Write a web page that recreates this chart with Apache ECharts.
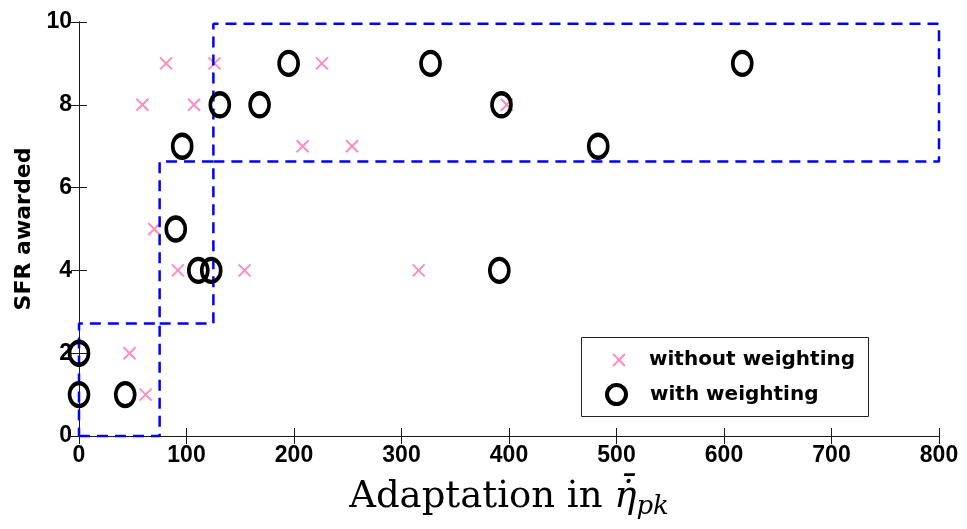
<!DOCTYPE html>
<html>
<head>
<meta charset="utf-8">
<script src="https://cdn.jsdelivr.net/npm/echarts@6/dist/echarts.min.js"></script>
<style>
  html, body { margin: 0; padding: 0; background: #fff; }
  #chart { width: 967px; height: 529px; }
</style>
</head>
<body>
<div id="chart"></div>
<script>
// SFR awarded versus adaptation, with and without weighting
const xTicks = [0, 100, 200, 300, 400, 500, 600, 700, 800];
const yTicks = [0, 2, 4, 6, 8, 10];

// [adaptation, SFR] pairs
const withoutWeighting = [
  [81, 9], [126, 9], [226, 9],
  [59, 8], [107, 8], [398, 8],
  [208, 7], [254, 7],
  [70, 5],
  [92, 4], [154, 4], [316, 4],
  [47, 2],
  [62, 1]
];
const withWeighting = [
  [0, 2], [0, 1], [43, 1],
  [90, 5],
  [111, 4], [123, 4], [391, 4],
  [96, 7], [483, 7],
  [131, 8], [168, 8], [393, 8],
  [195, 9], [327, 9], [617, 9]
];

// classification regions (x0, x1, y0, y1)
const regions = [
  [0, 75, 0, 2.72],
  [75, 125, 2.72, 6.63],
  [125, 800, 6.63, 9.96]
];

const pink = '#ff8cc0';
const crossPath = 'path://M0,0L10,10M10,0L0,10';

const regionSeries = regions.map(function (r, i) {
  return {
    name: 'region' + i,
    type: 'line',
    data: [[r[0], r[2]], [r[1], r[2]], [r[1], r[3]], [r[0], r[3]], [r[0], r[2]]],
    symbol: 'none',
    silent: true,
    z: 3,
    lineStyle: { color: '#0000ff', width: 2.5, type: [11, 7] },
    clip: false
  };
});

const chart = echarts.init(document.getElementById('chart'));
const tickFont = { fontFamily: 'Liberation Sans', fontWeight: 'bold', fontSize: 23, color: '#000' };
const axisLineStyle = { color: '#1a1a1a', width: 1 };

chart.setOption({
  animation: false,
  backgroundColor: '#fff',
  grid: { left: 79, right: 28, top: 22, bottom: 93, containLabel: false },
  xAxis: [
    {
      type: 'value', min: 0, max: 800, interval: 100,
      position: 'bottom',
      axisLine: { show: true, lineStyle: axisLineStyle },
      axisTick: { show: true, inside: true, length: 8, lineStyle: axisLineStyle },
      splitLine: { show: false },
      axisLabel: Object.assign({ margin: 8, formatter: function (v) { return xTicks.indexOf(v) >= 0 ? String(v) : ''; } }, tickFont),
      name: '{a|Adaptation in }{e|\u03B7\u0307\u0304}{s|pk}',
      nameLocation: 'middle',
      nameGap: 38,
      nameTextStyle: {
        color: '#000',
        rich: {
          a: { fontFamily: 'DejaVu Serif', fontSize: 37, color: '#000' },
          e: { fontFamily: 'DejaVu Serif', fontStyle: 'italic', fontSize: 37, color: '#000' },
          s: { fontFamily: 'DejaVu Serif', fontStyle: 'italic', fontSize: 26, color: '#000', padding: [20, 0, 0, 0] }
        }
      }
    },
    {
      type: 'value', min: 0, max: 800, interval: 100,
      position: 'top',
      axisLine: { show: true, lineStyle: axisLineStyle },
      axisTick: { show: true, inside: true, length: 8, lineStyle: axisLineStyle },
      axisLabel: { show: false },
      splitLine: { show: false }
    }
  ],
  yAxis: [
    {
      type: 'value', min: 0, max: 10, interval: 2,
      position: 'left',
      axisLine: { show: true, lineStyle: axisLineStyle },
      axisTick: { show: true, inside: true, length: 8, lineStyle: axisLineStyle },
      splitLine: { show: false },
      axisLabel: Object.assign({ margin: 7, formatter: function (v) { return yTicks.indexOf(v) >= 0 ? String(v) : ''; } }, tickFont),
      name: 'SFR awarded',
      nameLocation: 'middle',
      nameGap: 42,
      nameTextStyle: { fontFamily: 'DejaVu Sans', fontWeight: 'bold', fontSize: 22, color: '#000' }
    },
    {
      type: 'value', min: 0, max: 10, interval: 2,
      position: 'right',
      axisLine: { show: true, lineStyle: axisLineStyle },
      axisTick: { show: true, inside: true, length: 8, lineStyle: axisLineStyle },
      axisLabel: { show: false },
      splitLine: { show: false }
    }
  ],
  graphic: [
    {
      type: 'rect', left: 581, top: 337, z: 50,
      shape: { width: 287, height: 79 },
      style: { fill: '#fff', stroke: '#222', lineWidth: 1 }
    }
  ],
  legend: [
    {
      data: ['without weighting'],
      left: 612, top: 349, z: 60,
      orient: 'vertical',
      padding: 0,
      itemWidth: 12, itemHeight: 12,
      itemStyle: { color: 'transparent', borderColor: pink, borderWidth: 2, opacity: 1 },
      textStyle: { fontFamily: 'DejaVu Sans', fontWeight: 'bold', fontSize: 20, color: '#000', padding: [0, 0, 0, 19], lineHeight: 22 },
      selectedMode: false
    },
    {
      data: ['with weighting'],
      left: 605, top: 383, z: 60,
      orient: 'vertical',
      padding: 0,
      itemWidth: 19, itemHeight: 20,
      itemStyle: { color: 'transparent', borderColor: '#000', borderWidth: 4, opacity: 1 },
      textStyle: { fontFamily: 'DejaVu Sans', fontWeight: 'bold', fontSize: 20, color: '#000', padding: [0, 0, 0, 19], lineHeight: 22 },
      selectedMode: false
    }
  ],
  series: regionSeries.concat([
    {
      name: 'without weighting',
      type: 'scatter',
      data: withoutWeighting,
      symbol: crossPath,
      symbolSize: 12,
      z: 2,
      itemStyle: { color: 'transparent', borderColor: pink, borderWidth: 2, opacity: 1 }
    },
    {
      name: 'with weighting',
      type: 'scatter',
      data: withWeighting,
      symbol: 'circle',
      symbolSize: [19, 23],
      z: 4,
      clip: false,
      itemStyle: { color: 'transparent', borderColor: '#000', borderWidth: 4, opacity: 1 }
    }
  ])
});
</script>
</body>
</html>
